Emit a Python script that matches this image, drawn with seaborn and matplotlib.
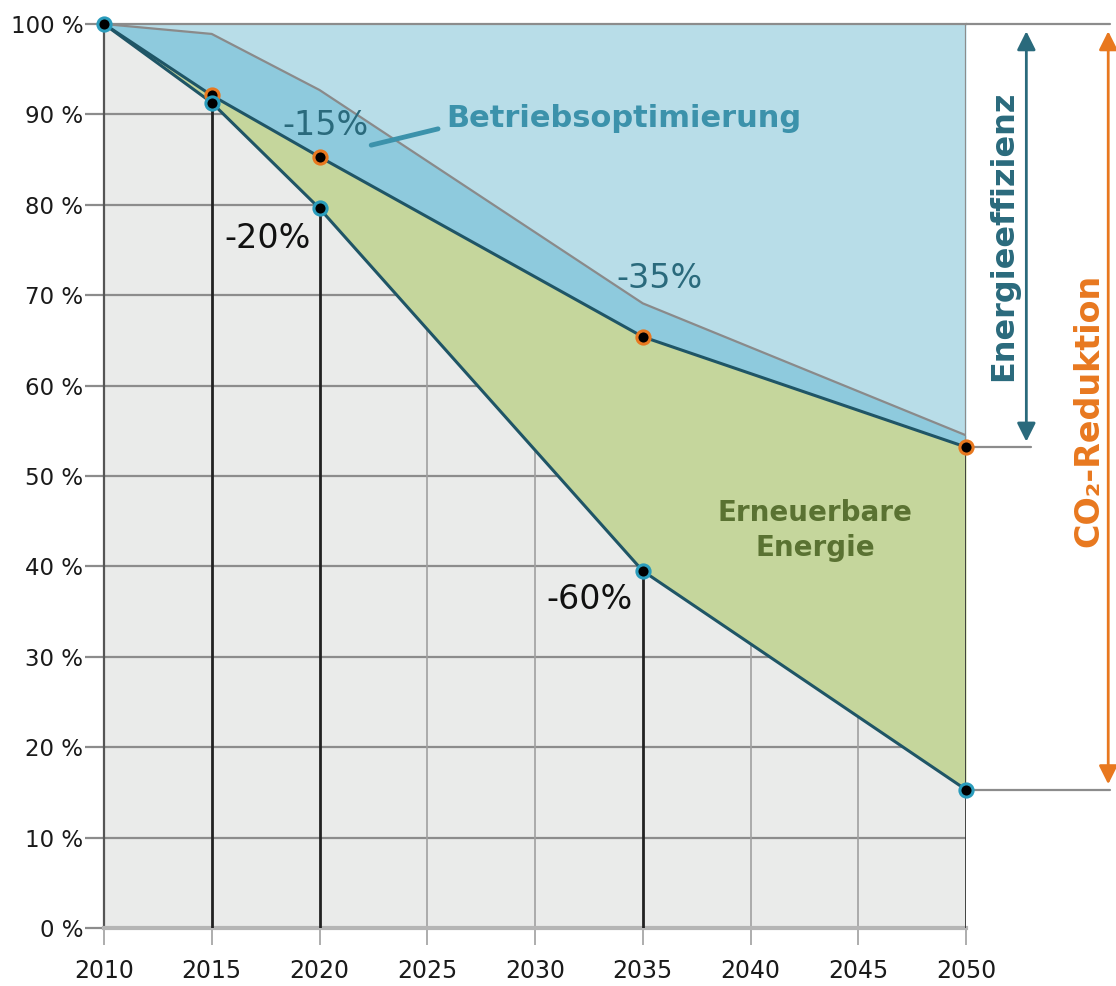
import matplotlib
matplotlib.use("Agg")
import matplotlib.pyplot as plt
import seaborn as sns
import numpy as np
import pandas as pd

# ---- data ----
years = [2010, 2015, 2020, 2035, 2050]
betriebsopt = [100, 98.9, 92.7, 69.1, 54.5]      # upper grey line
effizienz = [100, 92.1, 85.3, 65.4, 53.2]        # energy efficiency path
co2 = [100, 91.3, 79.6, 39.5, 15.3]              # CO2 reduction path
x_ticks = [2010, 2015, 2020, 2025, 2030, 2035, 2040, 2045, 2050]
y_ticks = [0, 10, 20, 30, 40, 50, 60, 70, 80, 90, 100]
y_labels = ["0 %", "10 %", "20 %", "30 %", "40 %", "50 %", "60 %", "70 %", "80 %", "90 %", "100 %"]

sns.set_theme(style="white")
plt.rcParams['font.family'] = ['DejaVu Sans']

C_LIGHT = "#b8dde8"
C_MID = "#8ecadd"
C_GREEN = "#c5d69c"
C_BG = "#eaebea"
C_LINE = "#1f5566"
C_TEAL = "#2a6a7c"
C_TEAL2 = "#3c92ab"
C_ORANGE = "#e8781f"
C_GTEXT = "#5a7232"

fig = plt.figure(figsize=(11.16, 9.86), dpi=100)
ax = fig.add_axes([104/1116, 1-928/986, 862/1116, 904/986])
ax.set_facecolor(C_BG)
ax.set_xlim(2010, 2050)
ax.set_ylim(0, 100)

# grid (below fills)
for y in y_ticks[1:-1]:
    ax.axhline(y, color="#8c8c8c", lw=1.6, zorder=1)
for x in [2025, 2030, 2040, 2045]:
    ax.axvline(x, color="#a0a0a0", lw=1.2, zorder=1)

df = pd.DataFrame({"year": years, "opt": betriebsopt, "eff": effizienz, "co2": co2})

# fills
ax.fill_between(df["year"], df["opt"], 100, color=C_LIGHT, zorder=2, lw=0)
ax.fill_between(df["year"], df["eff"], df["opt"], color=C_MID, zorder=2, lw=0)
ax.fill_between(df["year"], df["co2"], df["eff"], color=C_GREEN, zorder=2, lw=0)

# vertical lines from 0 to the CO2 points
ax.vlines([2015, 2020, 2035], 0, [co2[1], co2[2], co2[3]], color="#222222", lw=2, zorder=3)
ax.vlines([2050], 0, effizienz[-1], color="#333333", lw=2, zorder=3)
ax.vlines([2050], effizienz[-1], 100, color="#8c8c8c", lw=1.6, zorder=3)

# lines
sns.lineplot(data=df, x="year", y="opt", ax=ax, color="#8a8a8a", lw=1.6, zorder=4)
sns.lineplot(data=df, x="year", y="eff", ax=ax, color=C_LINE, lw=2.2, zorder=5)
sns.lineplot(data=df, x="year", y="co2", ax=ax, color=C_LINE, lw=2.2, zorder=5)

# markers
sns.scatterplot(data=df.iloc[1:], x="year", y="eff", ax=ax, s=90, color="black",
                edgecolor=C_ORANGE, linewidth=2.2, zorder=6, clip_on=False)
sns.scatterplot(data=df, x="year", y="co2", ax=ax, s=90, color="black",
                edgecolor="#2a9cbc", linewidth=2.2, zorder=6, clip_on=False)

# spines / ticks
for s in ["left", "top", "right"]:
    ax.spines[s].set_color("#8c8c8c")
    ax.spines[s].set_linewidth(1.6)
ax.spines["right"].set_visible(False)
ax.spines["left"].set_color("#555555")
ax.spines["bottom"].set_color("#b5b5b5")
ax.spines["bottom"].set_linewidth(3)
ax.set_xticks(x_ticks)
ax.set_xticklabels([str(x) for x in x_ticks])
ax.set_yticks(y_ticks)
ax.set_yticklabels(y_labels)
ax.tick_params(axis="y", length=14, width=1.6, color="#8c8c8c", labelsize=16.5, pad=1,
               left=True, labelcolor="#1a1a1a")
ax.tick_params(axis="x", length=12, width=1.2, color="#a0a0a0", labelsize=17, pad=10,
               bottom=True, labelcolor="#1a1a1a")
ax.set_xlabel("")
ax.set_ylabel("")
ax.grid(False)

# top line extension and right annotations
ax.plot([2050, 2056.7], [100, 100], color="#8c8c8c", lw=1.6, clip_on=False, zorder=3)
ax.plot([2050, 2053.0], [effizienz[-1], effizienz[-1]], color="#8c8c8c", lw=1.6, clip_on=False, zorder=3)
ax.plot([2050, 2056.7], [co2[-1], co2[-1]], color="#8c8c8c", lw=1.6, clip_on=False, zorder=3)

ax.annotate("", xy=(2052.8, 99.2), xytext=(2052.8, effizienz[-1] + 0.6), xycoords="data",
            arrowprops=dict(arrowstyle="<|-|>", color=C_TEAL, lw=2, mutation_scale=28,
                            shrinkA=0, shrinkB=0), annotation_clip=False)
ax.annotate("", xy=(2056.6, 99.2), xytext=(2056.6, co2[-1] + 0.6), xycoords="data",
            arrowprops=dict(arrowstyle="<|-|>", color=C_ORANGE, lw=2, mutation_scale=28,
                            shrinkA=0, shrinkB=0), annotation_clip=False)

ax.text(2051.75, 76.6, "Energieeffizienz", rotation=90, ha="center", va="center",
        color=C_TEAL, fontsize=23, fontweight="bold", clip_on=False)
ax.text(2055.7, 57.3, "CO₂-Reduktion", rotation=90, ha="center", va="center",
        color=C_ORANGE, fontsize=24, fontweight="bold", clip_on=False)

# inner labels
ax.text(2020.3, 88.8, "-15%", ha="center", va="center", color=C_TEAL, fontsize=24, zorder=7)
ax.plot([2022.4, 2025.5], [86.6, 88.4], color=C_TEAL2, lw=3.5, solid_capstyle="round", zorder=7)
ax.text(2025.9, 89.6, "Betriebsoptimierung", ha="left", va="center", color=C_TEAL2,
        fontsize=22, fontweight="bold", zorder=7)
ax.text(2017.6, 76.3, "-20%", ha="center", va="center", color="#111111", fontsize=24, zorder=7)
ax.text(2035.8, 71.9, "-35%", ha="center", va="center", color=C_TEAL, fontsize=24, zorder=7)
ax.text(2032.55, 36.3, "-60%", ha="center", va="center", color="#111111", fontsize=24, zorder=7)
ax.text(2043.0, 44.0, "Erneuerbare\nEnergie", ha="center", va="center", color=C_GTEXT,
        fontsize=20, fontweight="bold", linespacing=1.3, zorder=7)

fig.savefig("out.png", dpi=100)
